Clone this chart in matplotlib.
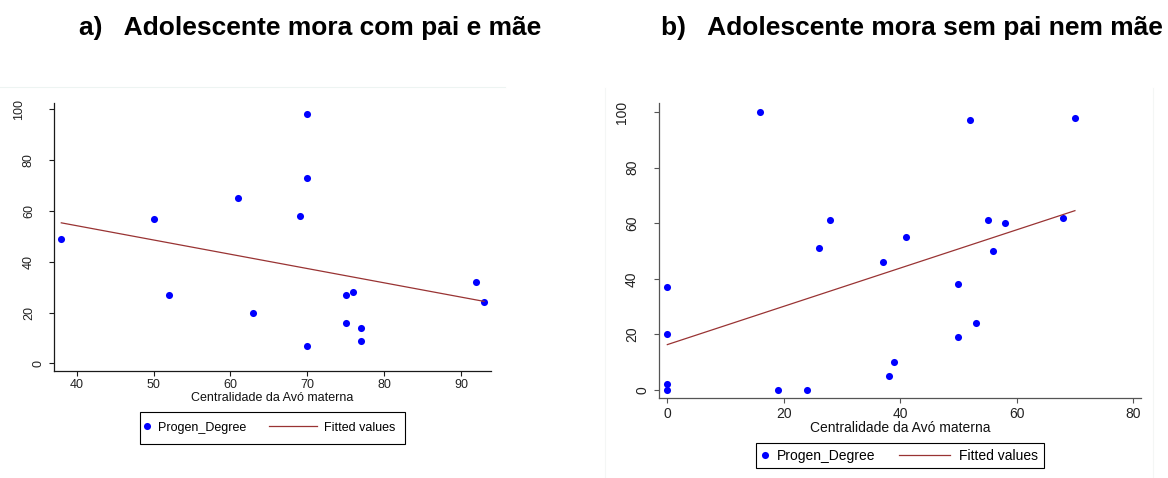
import numpy as np
import matplotlib
matplotlib.use('Agg')
import matplotlib.pyplot as plt
from matplotlib.lines import Line2D
from matplotlib.legend_handler import HandlerBase

plt.rcParams['font.family'] = ['Liberation Sans', 'DejaVu Sans']

# a) adolescent lives with father and mother
x_a = [38, 50, 52, 61, 63, 69, 70, 70, 70, 75, 75, 76, 77, 77, 92, 93]
y_a = [49, 57, 27, 65, 20, 58, 98, 73, 7, 27, 16, 28, 14, 9, 32, 24]

# b) adolescent lives without father or mother
x_b = [0, 0, 0, 0, 16, 19, 24, 26, 28, 37, 38, 39, 41, 50, 50, 52, 53, 55, 56, 58, 68, 70]
y_b = [37, 20, 2, 0, 100, 0, 0, 51, 61, 46, 5, 10, 55, 38, 19, 97, 24, 61, 50, 60, 62, 98]

titles = ['a)   Adolescente mora com pai e mãe', 'b)   Adolescente mora sem pai nem mãe']
xlabel = 'Centralidade da Avó materna'
xticks_a = [40, 50, 60, 70, 80, 90]
xticks_b = [0, 20, 40, 60, 80]
yticks = [0, 20, 40, 60, 80, 100]

blue = '#0000ff'
maroon = '#993333'


class ShiftedHandler(HandlerBase):
    # draws the handle at given x positions (points) relative to the handle box
    def __init__(self, xs):
        super().__init__()
        self.xs = xs

    def create_artists(self, legend, orig_handle, xdescent, ydescent,
                       width, height, fontsize, trans):
        yc = (height - ydescent) / 2.
        art = Line2D(self.xs, [yc] * len(self.xs))
        art.update_from(orig_handle)
        art.set_transform(trans)
        return [art]


fig = plt.figure(figsize=(11.68, 4.78), dpi=100)
W, H = 1168, 478

# faint graph-region borders
fig.add_artist(Line2D([0, 505 / W], [1 - 87 / H] * 2, color='#edf4f2', lw=0.8))
fig.add_artist(Line2D([605 / W] * 2, [0, 1 - 88 / H], color='#f4f6f5', lw=0.8))
fig.add_artist(Line2D([1153 / W] * 2, [0, 1 - 88 / H], color='#f4f6f5', lw=0.8))

panels = [
    dict(x=x_a, y=y_a, xticks=xticks_a, xlim=(37.05, 93.9), ylim=(-3, 102.6),
         rect=(54, 102.7, 491, 371), fs=9, lfs=9, axcol='#1a1a1a', yoff=15,
         leg_y=-0.152, bpad=0.8, hlen=0.3, cspace=5.5, mx=-2.2, lx=(-33.3, 1.3),
         title_x=310),
    dict(x=x_b, y=y_b, xticks=xticks_b, xlim=(-1.5, 81.4), ylim=(-3, 103.1),
         rect=(658.6, 103.4, 1141.3, 398.3), fs=10, lfs=10, axcol='#555555', yoff=16.5,
         leg_y=-0.1516, bpad=0.41, hlen=0.7, cspace=4.94, mx=2.45, lx=(-32.6, 4.6),
         title_x=912),
]

for p, title in zip(panels, titles):
    l, t, r, b = p['rect']
    ax = fig.add_axes([l / W, 1 - b / H, (r - l) / W, (b - t) / H])
    ax.plot(p['x'], p['y'], 'o', color=blue, ms=5.1, mec='none', label='Progen_Degree')
    slope, icpt = np.polyfit(p['x'], p['y'], 1)
    xs = np.array([min(p['x']), max(p['x'])])
    ax.plot(xs, icpt + slope * xs, color=maroon, lw=0.9, label='Fitted values')

    ax.set_xlim(*p['xlim'])
    ax.set_ylim(*p['ylim'])
    ax.set_xticks(p['xticks'])
    ax.set_yticks(yticks)
    for s in ['top', 'right']:
        ax.spines[s].set_visible(False)
    for s in ['left', 'bottom']:
        ax.spines[s].set_color(p['axcol'])
        ax.spines[s].set_linewidth(0.9)
    ax.tick_params(direction='out', length=3.6, width=0.8, color=p['axcol'],
                   labelsize=p['fs'], pad=2.5, labelleft=False, labelcolor='#222222')

    # y labels placed like Stata's rotated labels
    for v in yticks:
        s = str(v)
        ax.annotate(s, xy=(0, v), xycoords=('axes fraction', 'data'),
                    xytext=(-(p['yoff'] + 10 * (len(s) - 1)), 0), textcoords='offset pixels',
                    rotation=90, ha='center', va='center', fontsize=p['fs'], color='#222222')

    ax.set_xlabel(xlabel, fontsize=p['lfs'], labelpad=0.5, color='#111111')

    h_dot = Line2D([], [], marker='o', ls='none', color=blue, ms=5.1, mec='none')
    h_line = Line2D([], [], color=maroon, lw=0.9)
    leg = ax.legend([h_dot, h_line], ['Progen_Degree', 'Fitted values'],
                    handler_map={h_dot: ShiftedHandler([p['mx']]),
                                 h_line: ShiftedHandler(list(p['lx']))},
                    loc='upper center', bbox_to_anchor=(0.5, p['leg_y']), ncol=2,
                    fontsize=p['lfs'], frameon=True, fancybox=False, framealpha=1,
                    edgecolor='black', borderpad=p['bpad'], handlelength=p['hlen'],
                    handletextpad=0.4, columnspacing=p['cspace'], borderaxespad=0)
    leg.get_frame().set_linewidth(0.8)

    fig.text(p['title_x'] / W, 1 - 35 / H, title, ha='center', va='baseline',
             fontsize=19, fontweight='bold')

fig.savefig('out.png', dpi=100)
